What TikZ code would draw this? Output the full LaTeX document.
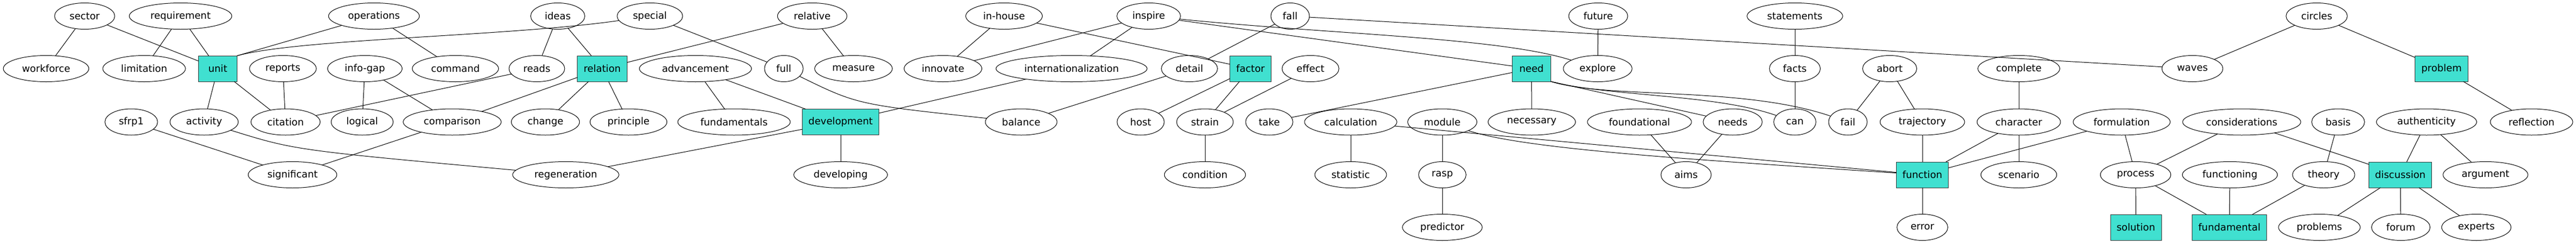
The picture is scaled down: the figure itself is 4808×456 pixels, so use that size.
\documentclass[tikz,border=0pt]{standalone}
\usepackage{fontspec}
\setmainfont{DejaVu Sans}
\usetikzlibrary{shapes.geometric}
\definecolor{turq}{HTML}{40E0D0}
\tikzset{
  term/.style={ellipse, draw, line width=1pt, minimum width=72pt, minimum height=49pt,
    inner xsep=11.5pt, inner ysep=0pt, outer sep=0pt, font=\fontsize{18.2}{20}\selectfont},
  hub/.style={rectangle, draw=black!80, line width=1pt, fill=turq, minimum width=72pt,
    minimum height=48pt, inner xsep=11.5pt, inner ysep=0pt, outer sep=0pt,
    font=\fontsize{18.2}{20}\selectfont},
  link/.style={line width=1pt}
}
\begin{document}
\begin{tikzpicture}[x=1pt, y=1pt]
    \useasboundingbox (0, 0) rectangle (4808, -456);
    % top row
    \node[term] (sector)      at (158, -30)  {sector};
    \node[term] (requirement) at (337, -30)  {requirement};
    \node[term] (operations)  at (698, -30)  {operations};
    \node[term] (ideas)       at (1041, -30) {ideas};
    \node[term] (special)     at (1213, -30) {special};
    \node[term] (relative)    at (1516, -30) {relative};
    \node[term] (inhouse)     at (1874, -30) {in-house};
    \node[term] (inspire)     at (2144, -30) {inspire};
    \node[term] (fall)        at (2408, -30) {fall};
    \node[term] (future)      at (2983, -30) {future};
    \node[term] (statements)  at (3350, -30) {statements};
    \node[term] (circles)     at (4324, -30) {circles};
    % second row
    \node[term] (workforce)   at (86, -128)   {workforce};
    \node[term] (limitation)  at (269, -128)  {limitation};
    \node[hub]  (unit)        at (406.5, -128) {unit};
    \node[term] (reports)     at (528, -128)  {reports};
    \node[term] (infogap)     at (681, -128)  {info-gap};
    \node[term] (command)     at (850, -128)  {command};
    \node[term] (reads)       at (1002, -128) {reads};
    \node[hub]  (relation)    at (1124, -128) {relation};
    \node[term] (advancement) at (1298, -128) {advancement};
    \node[term] (full)        at (1463, -128) {full};
    \node[term] (measure)     at (1593, -128) {measure};
    \node[term] (innovate)    at (1760, -128) {innovate};
    \node[term] (intl)        at (2000, -128) {internationalization};
    \node[term] (detail)      at (2220, -128) {detail};
    \node[hub]  (factor)      at (2334, -128) {factor};
    \node[term] (effect)      at (2446, -128) {effect};
    \node[hub]  (need)        at (2858.5, -128) {need};
    \node[term] (explore)     at (2982, -128) {explore};
    \node[term] (facts)       at (3350, -128) {facts};
    \node[term] (abort)       at (3527, -128) {abort};
    \node[term] (complete)    at (3768, -128) {complete};
    \node[term] (waves)       at (4092, -128) {waves};
    \node[hub]  (problem)     at (4557, -128) {problem};
    % third row
    \node[term] (sfrp)           at (245, -227.5)  {sfrp1};
    \node[term] (activity)       at (381, -227.5)  {activity};
    \node[term] (citation)       at (533, -227.5)  {citation};
    \node[term] (logical)        at (676, -227.5)  {logical};
    \node[term] (comparison)     at (844, -227.5)  {comparison};
    \node[term] (change)         at (1018, -227.5) {change};
    \node[term] (principle)      at (1173, -227.5) {principle};
    \node[term] (fundamentals)   at (1370, -227.5) {fundamentals};
    \node[hub]  (development)    at (1569, -227.5) {development};
    \node[term] (balance)        at (1906, -227.5) {balance};
    \node[term] (host)           at (2129, -227.5) {host};
    \node[term] (strain)         at (2249, -227.5) {strain};
    \node[term] (take)           at (2369, -227.5) {take};
    \node[term] (calculation)    at (2521, -227.5) {calculation};
    \node[term] (module)         at (2692, -227.5) {module};
    \node[term] (necessary)      at (2859, -227.5) {necessary};
    \node[term] (foundational)   at (3060, -227.5) {foundational};
    \node[term] (needs)          at (3234, -227.5) {needs};
    \node[term] (can)            at (3350, -227.5) {can};
    \node[term] (fail)           at (3449, -227.5) {fail};
    \node[term] (trajectory)     at (3588, -227.5) {trajectory};
    \node[term] (character)      at (3768, -227.5) {character};
    \node[term] (formulation)    at (3960, -227.5) {formulation};
    \node[term] (considerations) at (4184, -227.5) {considerations};
    \node[term] (basis)          at (4364, -227.5) {basis};
    \node[term] (authenticity)   at (4529, -227.5) {authenticity};
    \node[term] (reflection)     at (4725, -227.5) {reflection};
    % fourth row
    \node[term] (significant)  at (546, -326)  {significant};
    \node[term] (regeneration) at (1056, -326) {regeneration};
    \node[term] (developing)   at (1569, -326) {developing};
    \node[term] (condition)    at (2249, -326) {condition};
    \node[term] (statistic)    at (2521, -326) {statistic};
    \node[term] (rasp)         at (2692, -326) {rasp};
    \node[term] (aims)         at (3147, -326) {aims};
    \node[hub]  (function)     at (3588, -326) {function};
    \node[term] (scenario)     at (3768, -326) {scenario};
    \node[term] (process)      at (3986, -326) {process};
    \node[term] (functioning)  at (4162, -326) {functioning};
    \node[term] (theory)       at (4337, -326) {theory};
    \node[hub]  (discussion)   at (4480, -326) {discussion};
    \node[term] (argument)     at (4639, -326) {argument};
    % bottom row
    \node[term] (predictor)   at (2692, -424)   {predictor};
    \node[term] (error)       at (3588, -424)   {error};
    \node[hub]  (solution)    at (3986.5, -424) {solution};
    \node[hub]  (fundamental) at (4161, -424)   {fundamental};
    \node[term] (problems)    at (4329, -424)   {problems};
    \node[term] (forum)       at (4481, -424)   {forum};
    \node[term] (experts)     at (4622, -424)   {experts};
    % links
    \draw[link] (sector) -- (workforce);
    \draw[link] (sector) -- (unit);
    \draw[link] (requirement) -- (limitation);
    \draw[link] (requirement) -- (unit);
    \draw[link] (unit.north east) -- (operations);
    \draw[link] (unit.north east) .. controls (560, -72) and (950, -68) .. (special);
    \draw[link] (operations) -- (command);
    \draw[link] (unit) -- (activity);
    \draw[link] (unit) -- (citation);
    \draw[link] (reports) -- (citation);
    \draw[link] (citation) -- (reads);
    \draw[link] (sfrp) -- (significant);
    \draw[link] (activity) .. controls (550, -280) .. (regeneration);
    \draw[link] (significant) -- (comparison);
    \draw[link] (infogap) -- (logical);
    \draw[link] (infogap) -- (comparison);
    \draw[link] (ideas) -- (reads);
    \draw[link] (ideas) -- (relation);
    \draw[link] (relation) -- (relative);
    \draw[link] (relation) -- (comparison);
    \draw[link] (relation) -- (change);
    \draw[link] (relation) -- (principle);
    \draw[link] (special) -- (full);
    \draw[link] (relative) -- (measure);
    \draw[link] (advancement) -- (fundamentals);
    \draw[link] (advancement) -- (development);
    \draw[link] (full) .. controls (1600, -195) .. (balance);
    \draw[link] (development) -- (developing);
    \draw[link] (development) -- (regeneration);
    \draw[link] (development) -- (intl);
    \draw[link] (inhouse) -- (innovate);
    \draw[link] (inspire) -- (innovate);
    \draw[link] (inhouse) -- (factor);
    \draw[link] (inspire) -- (intl);
    \draw[link] (inspire) -- (need);
    \draw[link] (inspire) .. controls (2500, -65) and (2800, -70) .. (explore);
    \draw[link] (fall) -- (detail);
    \draw[link] (fall) -- (waves);
    \draw[link] (detail) -- (balance);
    \draw[link] (factor) -- (host);
    \draw[link] (factor) -- (strain);
    \draw[link] (effect) -- (strain);
    \draw[link] (strain) -- (condition);
    \draw[link] (need) -- (take);
    \draw[link] (need) -- (necessary);
    \draw[link] (need.south east) -- (needs);
    \draw[link] (need.south east) .. controls (3000, -180) and (3200, -175) .. (can);
    \draw[link] (need.south east) .. controls (3000, -185) and (3250, -160) .. (fail);
    \draw[link] (future) -- (explore);
    \draw[link] (statements) -- (facts);
    \draw[link] (facts) -- (can);
    \draw[link] (abort) -- (fail);
    \draw[link] (abort) -- (trajectory);
    \draw[link] (trajectory) -- (function);
    \draw[link] (function) -- (error);
    \draw[link] (calculation) -- (statistic);
    \draw[link] (calculation) -- (function);
    \draw[link] (module) -- (rasp);
    \draw[link] (module) .. controls (2850, -280) and (3200, -300) .. (function);
    \draw[link] (rasp) -- (predictor);
    \draw[link] (foundational) -- (aims);
    \draw[link] (needs) -- (aims);
    \draw[link] (complete) -- (character);
    \draw[link] (character) -- (function);
    \draw[link] (character) -- (scenario);
    \draw[link] (formulation) -- (function);
    \draw[link] (formulation) -- (process);
    \draw[link] (considerations) -- (process);
    \draw[link] (considerations) -- (discussion);
    \draw[link] (process) -- (solution);
    \draw[link] (process) -- (fundamental);
    \draw[link] (functioning) -- (fundamental);
    \draw[link] (theory) -- (fundamental);
    \draw[link] (basis) -- (theory);
    \draw[link] (circles) -- (waves);
    \draw[link] (circles) -- (problem);
    \draw[link] (problem) -- (reflection);
    \draw[link] (authenticity) -- (discussion);
    \draw[link] (authenticity) -- (argument);
    \draw[link] (discussion) -- (problems);
    \draw[link] (discussion) -- (forum);
    \draw[link] (discussion) -- (experts);
  \end{tikzpicture}
\end{document}
